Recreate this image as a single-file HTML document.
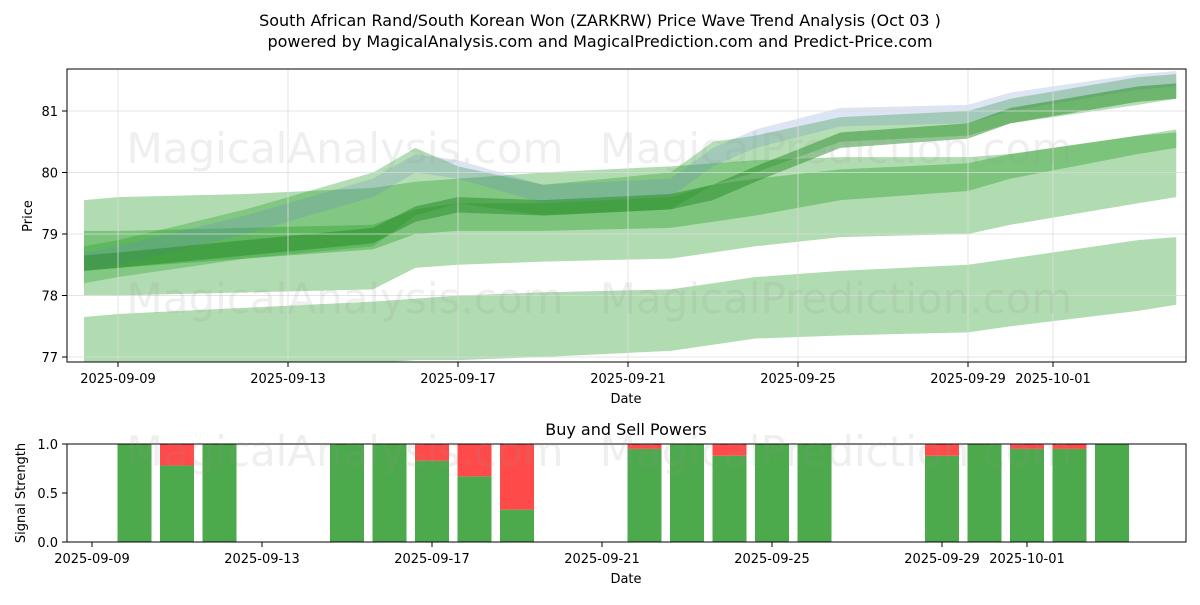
<!DOCTYPE html>
<html><head><meta charset="utf-8"><style>
body{margin:0;background:#fff;font-family:"Liberation Sans","DejaVu Sans",sans-serif}
svg text{font-family:"DejaVu Sans","Liberation Sans",sans-serif}
</style></head><body>
<svg id="c" width="1200" height="600">
<text x="600" y="26" text-anchor="middle" font-size="16">South African Rand/South Korean Won (ZARKRW) Price Wave Trend Analysis (Oct 03 )</text>
<text x="600" y="47" text-anchor="middle" font-size="16">powered by MagicalAnalysis.com and MagicalPrediction.com and Predict-Price.com</text>
<g id="top"></g>
<g id="bot"></g>
</svg>
<script>
const days=[-0.8,0,3,6,7,8,10,13,14,15,17,20,21,24,24.9];
const b1lo=[76.85,76.85,76.9,76.9,76.95,76.95,77.0,77.1,77.2,77.3,77.35,77.4,77.5,77.75,77.85];
const b1hi=[77.65,77.7,77.8,77.9,77.95,78.0,78.05,78.1,78.2,78.3,78.4,78.5,78.6,78.9,78.95];
const b2lo=[78.0,78.0,78.05,78.1,78.45,78.5,78.55,78.6,78.7,78.8,78.95,79.0,79.15,79.5,79.6];
const b2hi=[79.55,79.6,79.65,79.75,79.85,79.9,80.0,80.1,80.15,80.2,80.25,80.25,80.3,80.6,80.7];
const b3lo=[78.4,78.45,78.6,78.75,79.0,79.05,79.05,79.1,79.2,79.3,79.55,79.7,79.9,80.3,80.4];
const b3hi=[79.05,79.05,79.1,79.15,79.4,79.5,79.5,79.6,79.8,79.9,80.05,80.15,80.3,80.6,80.65];
const b4lo=[78.2,78.3,78.6,78.8,79.3,79.5,79.3,79.4,79.8,80.0,80.5,80.6,80.8,81.1,81.2];
const b4hi=[78.8,78.9,79.4,80.0,80.4,80.1,79.8,80.0,80.5,80.6,80.9,81.0,81.2,81.55,81.6];
const b5lo=[78.4,78.5,79.0,79.6,80.0,79.9,79.5,79.6,80.1,80.4,80.75,80.8,81.0,81.35,81.4];
const b5hi=[78.7,78.8,79.3,79.9,80.3,80.2,79.8,79.9,80.4,80.7,81.05,81.1,81.3,81.6,81.65];
const b6lo=[78.4,78.45,78.65,78.85,79.2,79.35,79.3,79.4,79.55,79.85,80.4,80.55,80.8,81.15,81.2];
const b6hi=[78.65,78.7,78.9,79.1,79.45,79.6,79.55,79.65,79.8,80.1,80.65,80.8,81.05,81.4,81.45];
const yTicks=[77,78,79,80,81];
const xTickDays=[0,4,8,12,16,20,22];
const xTickLabels=["2025-09-09","2025-09-13","2025-09-17","2025-09-21","2025-09-25","2025-09-29","2025-10-01"];
const barDays=[1,2,3,6,7,8,9,10,13,14,15,16,17,20,21,22,23,24];
const buyVals=[1,0.78,1,1,1,0.83,0.67,0.33,0.95,1,0.88,1,1,0.88,1,0.95,0.95,1];
const NS="http://www.w3.org/2000/svg";
const X=d=>118+42.5*d, XB=d=>92+42.5*d, Y=v=>111+(81-v)*61.5, YB=v=>542-98*v;
function mk(p,t,a){const e=document.createElementNS(NS,t);for(const k in a)e.setAttribute(k,a[k]);p.appendChild(e);return e;}
const svgEl=document.getElementById('c');
const topG=document.getElementById('top'),botG=document.getElementById('bot');
const cp=mk(topG,'clipPath',{id:'cp'});mk(cp,'rect',{x:67,y:69,width:1119,height:293});
const bands=[[b1lo,b1hi,'rgba(44,160,44,0.37)'],[b2lo,b2hi,'rgba(44,160,44,0.37)'],[b3lo,b3hi,'rgba(44,160,44,0.4)'],[b4lo,b4hi,'rgba(44,160,44,0.35)'],[b5lo,b5hi,'rgba(100,130,200,0.22)'],[b6lo,b6hi,'rgba(40,140,40,0.5)']];
const g=mk(topG,'g',{'clip-path':'url(#cp)'});
bands.forEach((b,i)=>{let pts=days.map((d,j)=>X(d)+','+Y(b[1][j]));pts=pts.concat(days.map((d,j)=>X(d)+','+Y(b[0][j])).reverse());
const p=mk(g,'polygon',{points:pts.join(' '),fill:b[2]});

});
yTicks.forEach(v=>{mk(topG,'line',{x1:67,x2:1186,y1:Y(v),y2:Y(v),stroke:'#ddd','stroke-width':0.8});mk(topG,'line',{x1:62,x2:67,y1:Y(v),y2:Y(v),stroke:'#000'});
const t=mk(topG,'text',{x:58,y:Y(v)+5,'text-anchor':'end','font-size':13});t.textContent=v;

});
xTickDays.forEach((d,i)=>{mk(topG,'line',{x1:X(d),x2:X(d),y1:69,y2:362,stroke:'#ddd','stroke-width':0.8});mk(topG,'line',{x1:X(d),x2:X(d),y1:362,y2:367,stroke:'#000'});
const t=mk(topG,'text',{x:X(d),y:383,'text-anchor':'middle','font-size':13});t.textContent=xTickLabels[i];


mk(botG,'line',{x1:XB(d),x2:XB(d),y1:542,y2:547,stroke:'#000'});
const t2=mk(botG,'text',{x:XB(d),y:563,'text-anchor':'middle','font-size':13});t2.textContent=xTickLabels[i];

});
[[345,163],[836,163],[345,313],[836,313],[345,466],[836,466]].forEach((p,i)=>{const t=mk(svgEl,'text',{x:p[0],y:p[1],'text-anchor':'middle','font-size':42,fill:'rgba(150,150,150,0.15)'});t.textContent=i%2?'MagicalPrediction.com':'MagicalAnalysis.com';

});
mk(topG,'rect',{x:67,y:69,width:1119,height:293,fill:'none',stroke:'#000'});
let t=mk(topG,'text',{x:626,y:403,'text-anchor':'middle','font-size':13});t.textContent='Date';
t=mk(topG,'text',{x:32,y:216,'text-anchor':'middle','font-size':13,transform:'rotate(-90 32 216)'});t.textContent='Price';
barDays.forEach((d,i)=>{const x=XB(d)-17;
const r=mk(botG,'rect',{x:x,y:YB(buyVals[i]),width:34,height:YB(0)-YB(buyVals[i]),fill:'#4caa4c'});


const s=mk(botG,'rect',{x:x,y:YB(1),width:34,height:YB(buyVals[i])-YB(1),fill:'#ff4a4a'});

});
[0,0.5,1].forEach(v=>{mk(botG,'line',{x1:62,x2:67,y1:YB(v),y2:YB(v),stroke:'#000'});const t=mk(botG,'text',{x:58,y:YB(v)+5,'text-anchor':'end','font-size':13});t.textContent=v.toFixed(1);

});
mk(botG,'rect',{x:67,y:444,width:1119,height:98,fill:'none',stroke:'#000'});
t=mk(botG,'text',{x:626,y:435,'text-anchor':'middle','font-size':16});t.textContent='Buy and Sell Powers';
t=mk(botG,'text',{x:626,y:583,'text-anchor':'middle','font-size':13});t.textContent='Date';
t=mk(botG,'text',{x:25,y:493,'text-anchor':'middle','font-size':13,transform:'rotate(-90 25 493)'});t.textContent='Signal Strength';
</script>
</body></html>
